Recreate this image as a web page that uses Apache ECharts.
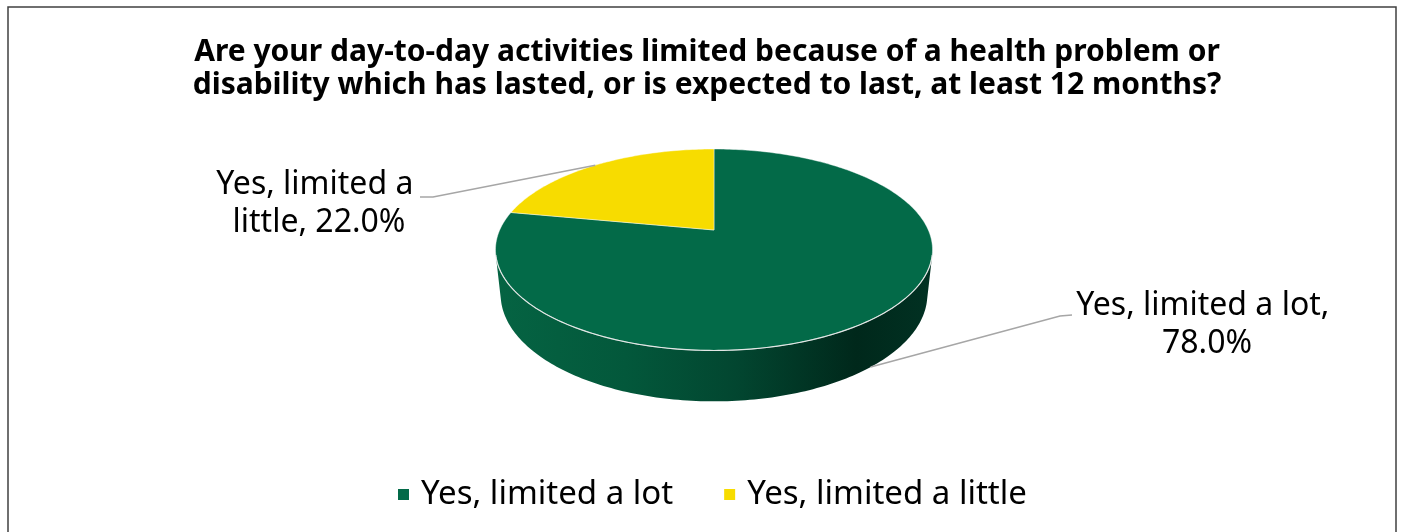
<!DOCTYPE html>
<html>
<head>
<meta charset="utf-8">
<title>Day-to-day activities limited</title>
<script src="https://cdn.jsdelivr.net/npm/echarts@6/dist/echarts.min.js"></script>
<style>
  html, body { margin: 0; padding: 0; background: #ffffff; }
  #chart { width: 1403px; height: 532px; }
</style>
</head>
<body>
<div id="chart"></div>
<script>
// Survey answers and their shares (percent of respondents)
const categories = ['Yes, limited a lot', 'Yes, limited a little'];
const shares = [78.0, 22.0];

const sliceColors = ['#036a48', '#f7dc00'];
const FONT = '"Noto Sans", "DejaVu Sans", sans-serif';

// Tilted-disc projection: angle measured clockwise from 12 o'clock,
// camera raised above the disc and looking down at it.
const CX = 714, CY = 230;          // screen position of the disc centre
const FOCAL = 975, DIST = 4.55;    // focal length (px) and camera distance (in radii)
const SIN_A = 0.452, COS_A = 0.892;
const DEPTH = 0.235;               // thickness of the disc, in radii

function project(deg, drop) {
  const r = deg * Math.PI / 180;
  const X = Math.sin(r), Z = Math.cos(r), Y = -drop;
  const zc = DIST + Z * COS_A - Y * SIN_A;
  const yc = Z * SIN_A + Y * COS_A;
  return [CX + FOCAL * X / zc, CY - FOCAL * yc / zc];
}

// The wall is facing the camera where cos(angle) < -1 / (DIST * cos a)
const wallLimit = Math.acos(-1 / (DIST * COS_A)) * 180 / Math.PI;
const wallFrom = wallLimit, wallTo = 360 - wallLimit;

function rimPoints(a, b, drop) {
  const pts = [];
  const n = Math.max(2, Math.ceil(Math.abs(b - a)));
  for (let i = 0; i <= n; i++) pts.push(project(a + (b - a) * i / n, drop));
  return pts;
}

// Where each label sits and how its leader line leaves it
const labelLayout = [
  { x: 1207, y: 325, width: 300, lineStart: [1072, 315], elbow: [1060, 316] },
  { x: 319,  y: 204, width: 240, lineStart: [420, 197],  elbow: [433, 197] }
];

const sideGradient = {
  type: 'linear', global: true,
  x: CX - 222, y: 0, x2: CX + 222, y2: 0,
  colorStops: [
    { offset: 0.00, color: '#056443' },
    { offset: 0.30, color: '#03583b' },
    { offset: 0.55, color: '#024630' },
    { offset: 0.82, color: '#00281b' },
    { offset: 1.00, color: '#013223' }
  ]
};

function makeRenderItem(idx) {
  return function (params, api) {
    const total = shares.reduce((s, v) => s + v, 0);
    const before = shares.slice(0, idx).reduce((s, v) => s + v, 0);
    const value = api.value(0);
    const start = before / total * 360;
    const end = start + value / total * 360;
    const children = [];

    // visible part of the outer wall
    const a = Math.max(start, wallFrom), b = Math.min(end, wallTo);
    if (a < b) {
      const top = rimPoints(a, b, 0);
      const bottom = rimPoints(b, a, DEPTH);
      children.push({
        type: 'polygon', z2: 1,
        shape: { points: top.concat(bottom) },
        style: { fill: sideGradient, stroke: null }
      });
      children.push({
        type: 'polyline', z2: 3,
        shape: { points: top },
        style: { stroke: 'rgba(235,235,235,0.9)', lineWidth: 1.2, fill: null }
      });
    }

    // top face of the slice
    children.push({
      type: 'polygon', z2: 2,
      shape: { points: [[CX, CY]].concat(rimPoints(start, end, 0)) },
      style: { fill: sliceColors[idx], stroke: 'rgba(255,255,255,0.55)', lineWidth: 0.8 }
    });

    // leader line to the middle of the slice
    const mid = (start + end) / 2;
    const midFront = mid > wallFrom && mid < wallTo;
    const anchor = project(mid, midFront ? DEPTH : 0);
    const lay = labelLayout[idx];
    children.push({
      type: 'polyline', z2: 4,
      shape: { points: [lay.lineStart, lay.elbow, anchor] },
      style: { stroke: '#a6a6a6', lineWidth: 1.5, fill: null }
    });

    // data label
    children.push({
      type: 'text', z2: 5,
      style: {
        text: categories[idx] + ', ' + value.toFixed(1) + '%',
        x: lay.x, y: lay.y,
        align: 'center', verticalAlign: 'middle',
        width: lay.width, overflow: 'break',
        fontFamily: FONT, fontSize: 32, lineHeight: 38,
        fill: '#000000'
      }
    });

    return { type: 'group', children: children };
  };
}

const chart = echarts.init(document.getElementById('chart'), null, { renderer: 'canvas' });

chart.setOption({
  animation: false,
  backgroundColor: '#ffffff',
  title: {
    text: 'Are your day-to-day activities limited because of a health problem or\ndisability which has lasted, or is expected to last, at least 12 months?',
    left: 702, top: 31,
    textAlign: 'center',
    textStyle: {
      fontFamily: FONT, fontSize: 30, fontWeight: 'bold',
      lineHeight: 33, color: '#000000'
    }
  },
  legend: {
    data: categories,
    left: 393, top: 473,
    icon: 'rect', itemWidth: 11, itemHeight: 11, itemGap: 51,
    textStyle: { fontFamily: FONT, fontSize: 33, color: '#000000', padding: [0, 0, 0, 7] }
  },
  graphic: [{
    type: 'rect', z: -1, silent: true,
    shape: { x: 8, y: 7, width: 1388, height: 540 },
    style: { fill: null, stroke: '#404040', lineWidth: 1.5 }
  }],
  series: categories.map((name, i) => ({
    type: 'custom',
    name: name,
    coordinateSystem: 'none',
    itemStyle: { color: sliceColors[i] },
    renderItem: makeRenderItem(i),
    data: [[shares[i]]]
  }))
});
</script>
</body>
</html>
